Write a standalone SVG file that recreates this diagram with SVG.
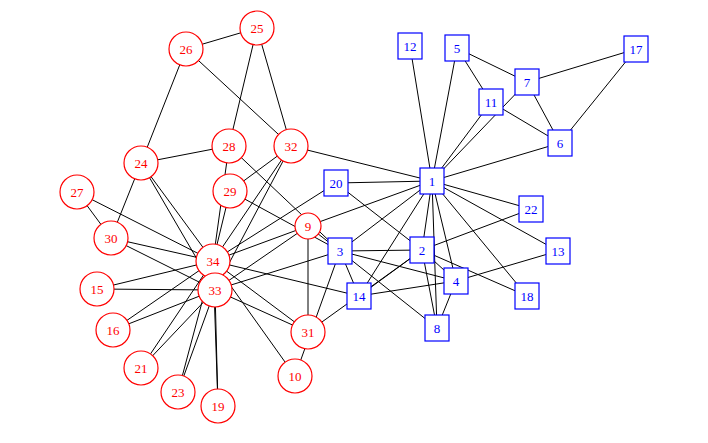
<svg xmlns="http://www.w3.org/2000/svg" width="708" height="443" viewBox="0 0 708 443">
<style>
.e line{stroke:#000;stroke-width:1}
.c{fill:#fff;stroke:#f00;stroke-width:1.2}
.s{fill:#fff;stroke:#00f;stroke-width:1.2}
.tc{fill:#f00;font-family:"Liberation Serif",serif;font-size:13px;text-anchor:middle;dominant-baseline:central}
.ts{fill:#00f;font-family:"Liberation Serif",serif;font-size:13px;text-anchor:middle;dominant-baseline:central}
</style>
<rect width="708" height="443" fill="#fff"/>
<g class="e" id="edges">
<line x1="432" y1="181" x2="422" y2="250"/><line x1="432" y1="181" x2="340" y2="251"/><line x1="432" y1="181" x2="456" y2="281"/><line x1="432" y1="181" x2="457" y2="48"/><line x1="432" y1="181" x2="560" y2="143"/><line x1="432" y1="181" x2="527" y2="82"/><line x1="432" y1="181" x2="437" y2="328"/><line x1="432" y1="181" x2="308" y2="226"/><line x1="432" y1="181" x2="491" y2="102"/><line x1="432" y1="181" x2="410" y2="46"/><line x1="432" y1="181" x2="558" y2="251"/><line x1="432" y1="181" x2="359" y2="296"/><line x1="432" y1="181" x2="527" y2="296"/><line x1="432" y1="181" x2="336" y2="183"/><line x1="432" y1="181" x2="531" y2="209"/><line x1="432" y1="181" x2="291" y2="146"/>
<line x1="422" y1="250" x2="340" y2="251"/><line x1="422" y1="250" x2="456" y2="281"/><line x1="422" y1="250" x2="437" y2="328"/><line x1="422" y1="250" x2="359" y2="296"/><line x1="422" y1="250" x2="527" y2="296"/><line x1="422" y1="250" x2="336" y2="183"/><line x1="422" y1="250" x2="531" y2="209"/><line x1="422" y1="250" x2="308" y2="332"/>
<line x1="340" y1="251" x2="456" y2="281"/><line x1="340" y1="251" x2="437" y2="328"/><line x1="340" y1="251" x2="308" y2="226"/><line x1="340" y1="251" x2="295" y2="376"/><line x1="340" y1="251" x2="359" y2="296"/><line x1="340" y1="251" x2="229" y2="146"/><line x1="340" y1="251" x2="230" y2="191"/><line x1="340" y1="251" x2="215" y2="290"/>
<line x1="456" y1="281" x2="437" y2="328"/><line x1="456" y1="281" x2="558" y2="251"/><line x1="456" y1="281" x2="359" y2="296"/>
<line x1="457" y1="48" x2="527" y2="82"/><line x1="457" y1="48" x2="491" y2="102"/>
<line x1="560" y1="143" x2="527" y2="82"/><line x1="560" y1="143" x2="491" y2="102"/><line x1="560" y1="143" x2="636" y2="49"/><line x1="527" y1="82" x2="636" y2="49"/>
<line x1="308" y1="226" x2="308" y2="332"/><line x1="308" y1="226" x2="215" y2="290"/><line x1="308" y1="226" x2="213" y2="261"/>
<line x1="295" y1="376" x2="213" y2="261"/><line x1="359" y1="296" x2="213" y2="261"/>
<line x1="97" y1="289" x2="215" y2="290"/><line x1="97" y1="289" x2="213" y2="261"/>
<line x1="113" y1="330" x2="215" y2="290"/><line x1="113" y1="330" x2="213" y2="261"/>
<line x1="218" y1="406" x2="215" y2="290"/><line x1="218" y1="406" x2="213" y2="261"/>
<line x1="336" y1="183" x2="213" y2="261"/>
<line x1="141" y1="368" x2="215" y2="290"/><line x1="141" y1="368" x2="213" y2="261"/>
<line x1="178" y1="392" x2="215" y2="290"/><line x1="178" y1="392" x2="213" y2="261"/>
<line x1="141" y1="163" x2="186" y2="49"/><line x1="141" y1="163" x2="229" y2="146"/><line x1="141" y1="163" x2="111" y2="238"/><line x1="141" y1="163" x2="215" y2="290"/><line x1="141" y1="163" x2="213" y2="261"/>
<line x1="257" y1="28" x2="186" y2="49"/><line x1="257" y1="28" x2="229" y2="146"/><line x1="257" y1="28" x2="291" y2="146"/><line x1="186" y1="49" x2="291" y2="146"/>
<line x1="77" y1="192" x2="111" y2="238"/><line x1="77" y1="192" x2="213" y2="261"/>
<line x1="229" y1="146" x2="213" y2="261"/><line x1="230" y1="191" x2="291" y2="146"/><line x1="230" y1="191" x2="213" y2="261"/>
<line x1="111" y1="238" x2="215" y2="290"/><line x1="111" y1="238" x2="213" y2="261"/>
<line x1="308" y1="332" x2="215" y2="290"/><line x1="308" y1="332" x2="213" y2="261"/>
<line x1="291" y1="146" x2="215" y2="290"/><line x1="291" y1="146" x2="213" y2="261"/>
<line x1="215" y1="290" x2="213" y2="261"/>
</g>
<g id="n34"><circle class="c" cx="213" cy="261" r="17"/><text class="tc" x="213" y="261">34</text></g>
<g id="n33"><circle class="c" cx="215" cy="290" r="17"/><text class="tc" x="215" y="290">33</text></g>
<g id="n15"><circle class="c" cx="97" cy="289" r="17"/><text class="tc" x="97" y="289">15</text></g>
<g id="n16"><circle class="c" cx="113" cy="330" r="17"/><text class="tc" x="113" y="330">16</text></g>
<g id="n19"><circle class="c" cx="218" cy="406" r="17"/><text class="tc" x="218" y="406">19</text></g>
<g id="n21"><circle class="c" cx="141" cy="368" r="17"/><text class="tc" x="141" y="368">21</text></g>
<g id="n23"><circle class="c" cx="178" cy="392" r="17"/><text class="tc" x="178" y="392">23</text></g>
<g id="n24"><circle class="c" cx="141" cy="163" r="17"/><text class="tc" x="141" y="163">24</text></g>
<g id="n25"><circle class="c" cx="257" cy="28" r="17"/><text class="tc" x="257" y="28">25</text></g>
<g id="n26"><circle class="c" cx="186" cy="49" r="17"/><text class="tc" x="186" y="49">26</text></g>
<g id="n27"><circle class="c" cx="77" cy="192" r="17"/><text class="tc" x="77" y="192">27</text></g>
<g id="n28"><circle class="c" cx="229" cy="146" r="17"/><text class="tc" x="229" y="146">28</text></g>
<g id="n29"><circle class="c" cx="230" cy="191" r="17"/><text class="tc" x="230" y="191">29</text></g>
<g id="n30"><circle class="c" cx="111" cy="238" r="17"/><text class="tc" x="111" y="238">30</text></g>
<g id="n31"><circle class="c" cx="308" cy="332" r="17"/><text class="tc" x="308" y="332">31</text></g>
<g id="n32"><circle class="c" cx="291" cy="146" r="17"/><text class="tc" x="291" y="146">32</text></g>
<g id="n9"><circle class="c" cx="308" cy="226" r="13"/><text class="tc" x="308" y="226">9</text></g>
<g id="n10"><circle class="c" cx="295" cy="376" r="17"/><text class="tc" x="295" y="376">10</text></g>
<g id="n1"><rect class="s" x="420" y="168" width="24" height="26"/><text class="ts" x="432" y="181">1</text></g>
<g id="n2"><rect class="s" x="410" y="237" width="24" height="26"/><text class="ts" x="422" y="250">2</text></g>
<g id="n3"><rect class="s" x="328" y="238" width="24" height="26"/><text class="ts" x="340" y="251">3</text></g>
<g id="n4"><rect class="s" x="444" y="268" width="24" height="26"/><text class="ts" x="456" y="281">4</text></g>
<g id="n5"><rect class="s" x="445" y="35" width="24" height="26"/><text class="ts" x="457" y="48">5</text></g>
<g id="n6"><rect class="s" x="548" y="130" width="24" height="26"/><text class="ts" x="560" y="143">6</text></g>
<g id="n7"><rect class="s" x="515" y="69" width="24" height="26"/><text class="ts" x="527" y="82">7</text></g>
<g id="n8"><rect class="s" x="425" y="315" width="24" height="26"/><text class="ts" x="437" y="328">8</text></g>
<g id="n11"><rect class="s" x="479" y="89" width="24" height="26"/><text class="ts" x="491" y="102">11</text></g>
<g id="n12"><rect class="s" x="398" y="33" width="24" height="26"/><text class="ts" x="410" y="46">12</text></g>
<g id="n13"><rect class="s" x="546" y="238" width="24" height="26"/><text class="ts" x="558" y="251">13</text></g>
<g id="n14"><rect class="s" x="347" y="283" width="24" height="26"/><text class="ts" x="359" y="296">14</text></g>
<g id="n17"><rect class="s" x="624" y="36" width="24" height="26"/><text class="ts" x="636" y="49">17</text></g>
<g id="n18"><rect class="s" x="515" y="283" width="24" height="26"/><text class="ts" x="527" y="296">18</text></g>
<g id="n20"><rect class="s" x="324" y="170" width="24" height="26"/><text class="ts" x="336" y="183">20</text></g>
<g id="n22"><rect class="s" x="519" y="196" width="24" height="26"/><text class="ts" x="531" y="209">22</text></g>
</svg>
